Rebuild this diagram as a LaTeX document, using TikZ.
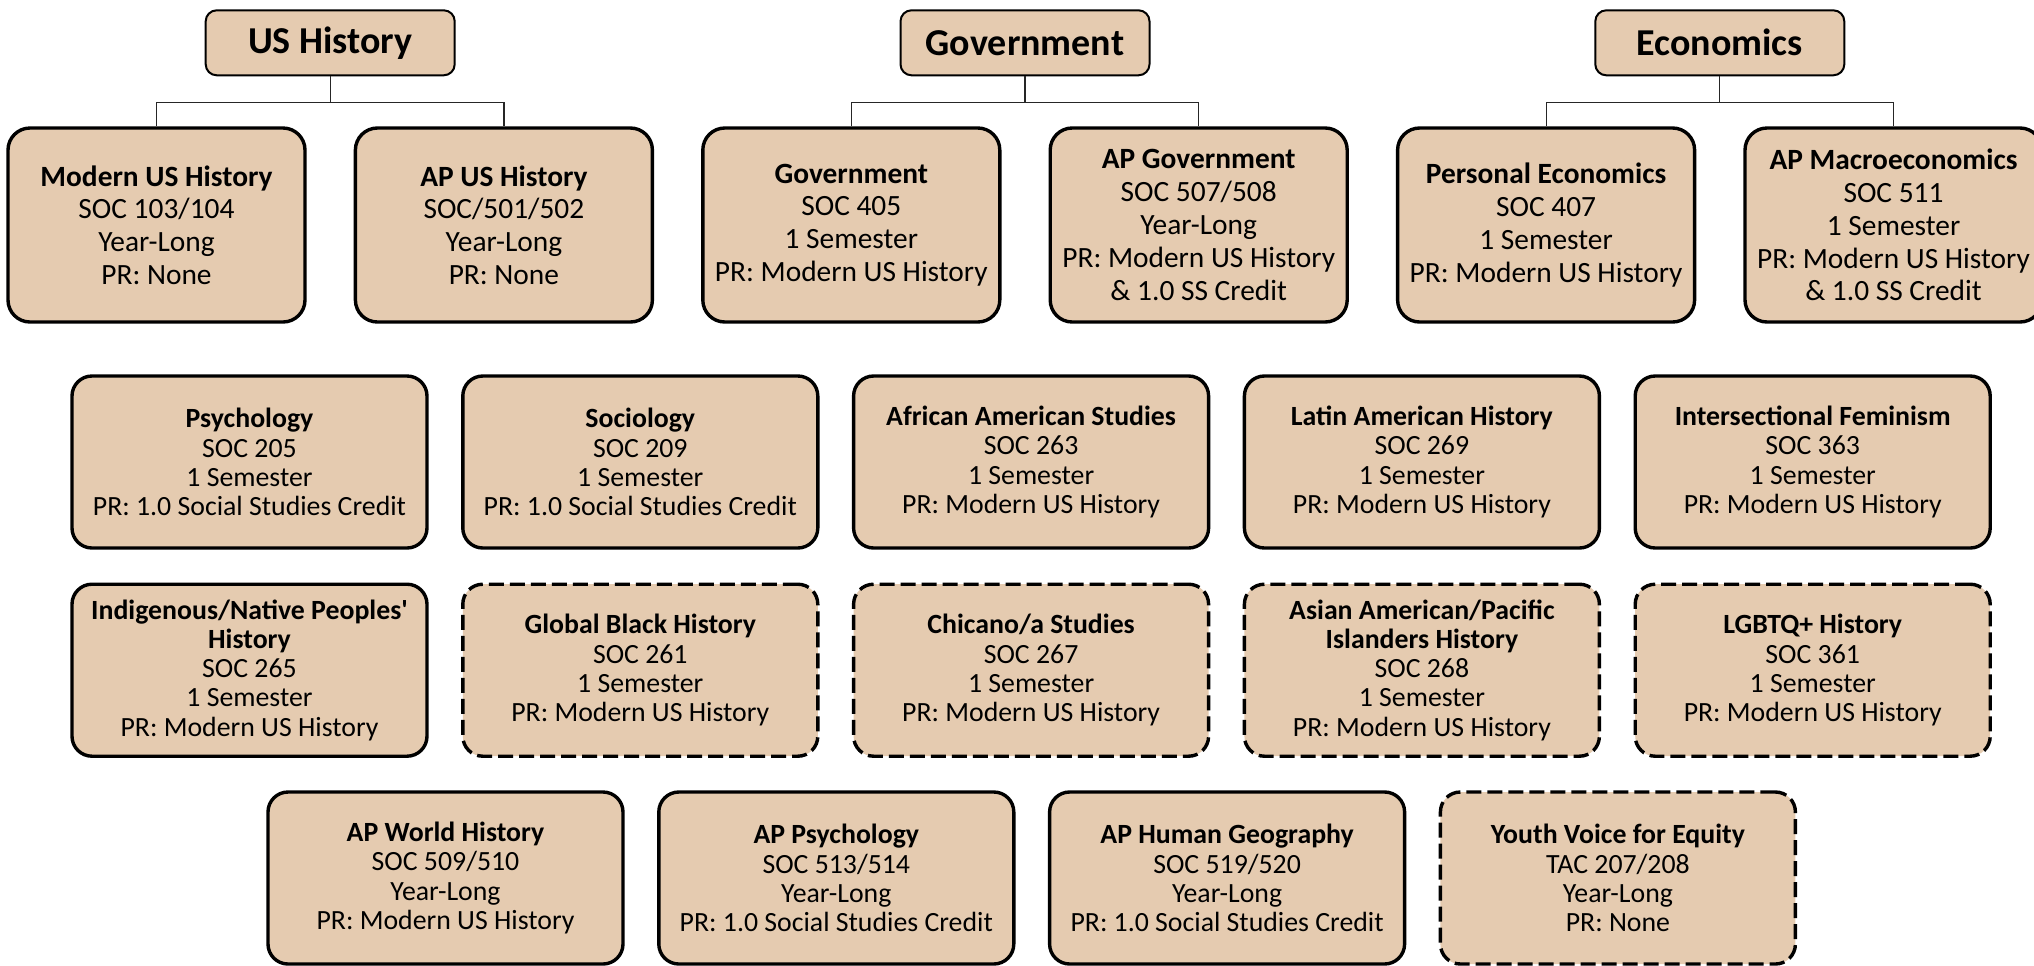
\documentclass[tikz,border=0pt]{standalone}
\usepackage{fontspec}
\setmainfont{Carlito}
\usetikzlibrary{positioning,calc}
\definecolor{coursetan}{RGB}{229,203,176}
\tikzset{
  %define style for subject boxes
  subj/.style={
    rectangle,
    rounded corners=5.5pt,
    draw=black, line width=1pt,
    fill=coursetan,
    minimum width=124.5pt,
    minimum height=32.5pt,
    font=\bfseries\fontsize{19}{22}\selectfont},
  %define style for the upper course boxes
  upkurs/.style={
    rectangle,
    rounded corners=11pt,
    draw=black, line width=1.7pt,
    fill=coursetan,
    align=center,
    inner sep=0pt,
    minimum width=148.5pt,
    minimum height=97pt,
    font=\fontsize{14.7}{16.4}\selectfont},
  %define style for the other course boxes
  kurs/.style={
    rectangle,
    rounded corners=10pt,
    draw=black, line width=1.7pt,
    fill=coursetan,
    align=center,
    inner sep=0pt,
    minimum width=177.5pt,
    minimum height=86pt,
    font=\fontsize{13.9}{14.6}\selectfont},
  kursp/.style={
    kurs,
    dash pattern=on 7.5pt off 3pt},
  %define style for lines
  myline/.style={
    draw=black!85,
    line width=0.6pt}
}
\begin{document}
\begin{tikzpicture}
\useasboundingbox (0,0) rectangle (1017pt,-482.5pt);
%upper courses
\node[upkurs] (modern) at (78.25pt,-112.5pt)
     {\textbf{Modern US History}\\SOC 103/104\\Year-Long\\PR: None};
\node[upkurs, right=23.5pt of modern] (apus)
     {\textbf{AP US History}\\SOC/501/502\\Year-Long\\PR: None};
\node[upkurs, right=23.5pt of apus] (gov)
     {\textbf{Government}\\SOC 405\\1 Semester\\PR: Modern US History};
\node[upkurs, right=23.5pt of gov] (apgov)
     {\textbf{AP Government}\\SOC 507/508\\Year-Long\\PR: Modern US History\\\& 1.0 SS Credit};
\node[upkurs, right=23.5pt of apgov] (persecon)
     {\textbf{Personal Economics}\\SOC 407\\1 Semester\\PR: Modern US History};
\node[upkurs, right=23.5pt of persecon] (apmacro)
     {\textbf{AP Macroeconomics}\\SOC 511\\1 Semester\\PR: Modern US History\\\& 1.0 SS Credit};

%subjects
\node[subj] (ushist) at ($(modern.north)!0.5!(apus.north)+(0,41.75pt)$) {US History};
\node[subj] (govt) at ($(gov.north)!0.5!(apgov.north)+(0,41.75pt)$) {Government};
\node[subj] (econ) at ($(persecon.north)!0.5!(apmacro.north)+(0,41.75pt)$) {Economics};

\draw[myline] (ushist.south) -- ++(0,-13pt) -| (modern.north);
\draw[myline] (ushist.south) -- ++(0,-13pt) -| (apus.north);
\draw[myline] (govt.south) -- ++(0,-13pt) -| (gov.north);
\draw[myline] (govt.south) -- ++(0,-13pt) -| (apgov.north);
\draw[myline] (econ.south) -- ++(0,-13pt) -| (persecon.north);
\draw[myline] (econ.south) -- ++(0,-13pt) -| (apmacro.north);

%second row
\node[kurs] (psych) at (124.75pt,-231pt)
     {\textbf{Psychology}\\SOC 205\\1 Semester\\PR: 1.0 Social Studies Credit};
\node[kurs, right=16.2pt of psych] (socio)
     {\textbf{Sociology}\\SOC 209\\1 Semester\\PR: 1.0 Social Studies Credit};
\node[kurs, right=16.2pt of socio] (afam)
     {\textbf{African American Studies}\\SOC 263\\1 Semester\\PR: Modern US History};
\node[kurs, right=16.2pt of afam] (latam)
     {\textbf{Latin American History}\\SOC 269\\1 Semester\\PR: Modern US History};
\node[kurs, right=16.2pt of latam] (femin)
     {\textbf{Intersectional Feminism}\\SOC 363\\1 Semester\\PR: Modern US History};

%third row
\node[kurs, below=16.4pt of psych] (indig)
     {\textbf{Indigenous/Native Peoples\textquotesingle}\\\textbf{History}\\SOC 265\\1 Semester\\PR: Modern US History};
\node[kursp, right=16.2pt of indig] (globblack)
     {\textbf{Global Black History}\\SOC 261\\1 Semester\\PR: Modern US History};
\node[kursp, right=16.2pt of globblack] (chicano)
     {\textbf{Chicano/a Studies}\\SOC 267\\1 Semester\\PR: Modern US History};
\node[kursp, right=16.2pt of chicano] (asianam)
     {\textbf{Asian American/Pacific}\\\textbf{Islanders History}\\SOC 268\\1 Semester\\PR: Modern US History};
\node[kursp, right=16.2pt of asianam] (lgbtq)
     {\textbf{LGBTQ+ History}\\SOC 361\\1 Semester\\PR: Modern US History};

%fourth row
\node[kurs] (apworld) at (222.75pt,-439pt)
     {\textbf{AP World History}\\SOC 509/510\\Year-Long\\PR: Modern US History};
\node[kurs, right=16.2pt of apworld] (appsych)
     {\textbf{AP Psychology}\\SOC 513/514\\Year-Long\\PR: 1.0 Social Studies Credit};
\node[kurs, right=16.2pt of appsych] (aphug)
     {\textbf{AP Human Geography}\\SOC 519/520\\Year-Long\\PR: 1.0 Social Studies Credit};
\node[kursp, right=16.2pt of aphug] (youth)
     {\textbf{Youth Voice for Equity}\\TAC 207/208\\Year-Long\\PR: None};

\end{tikzpicture}
\end{document}
